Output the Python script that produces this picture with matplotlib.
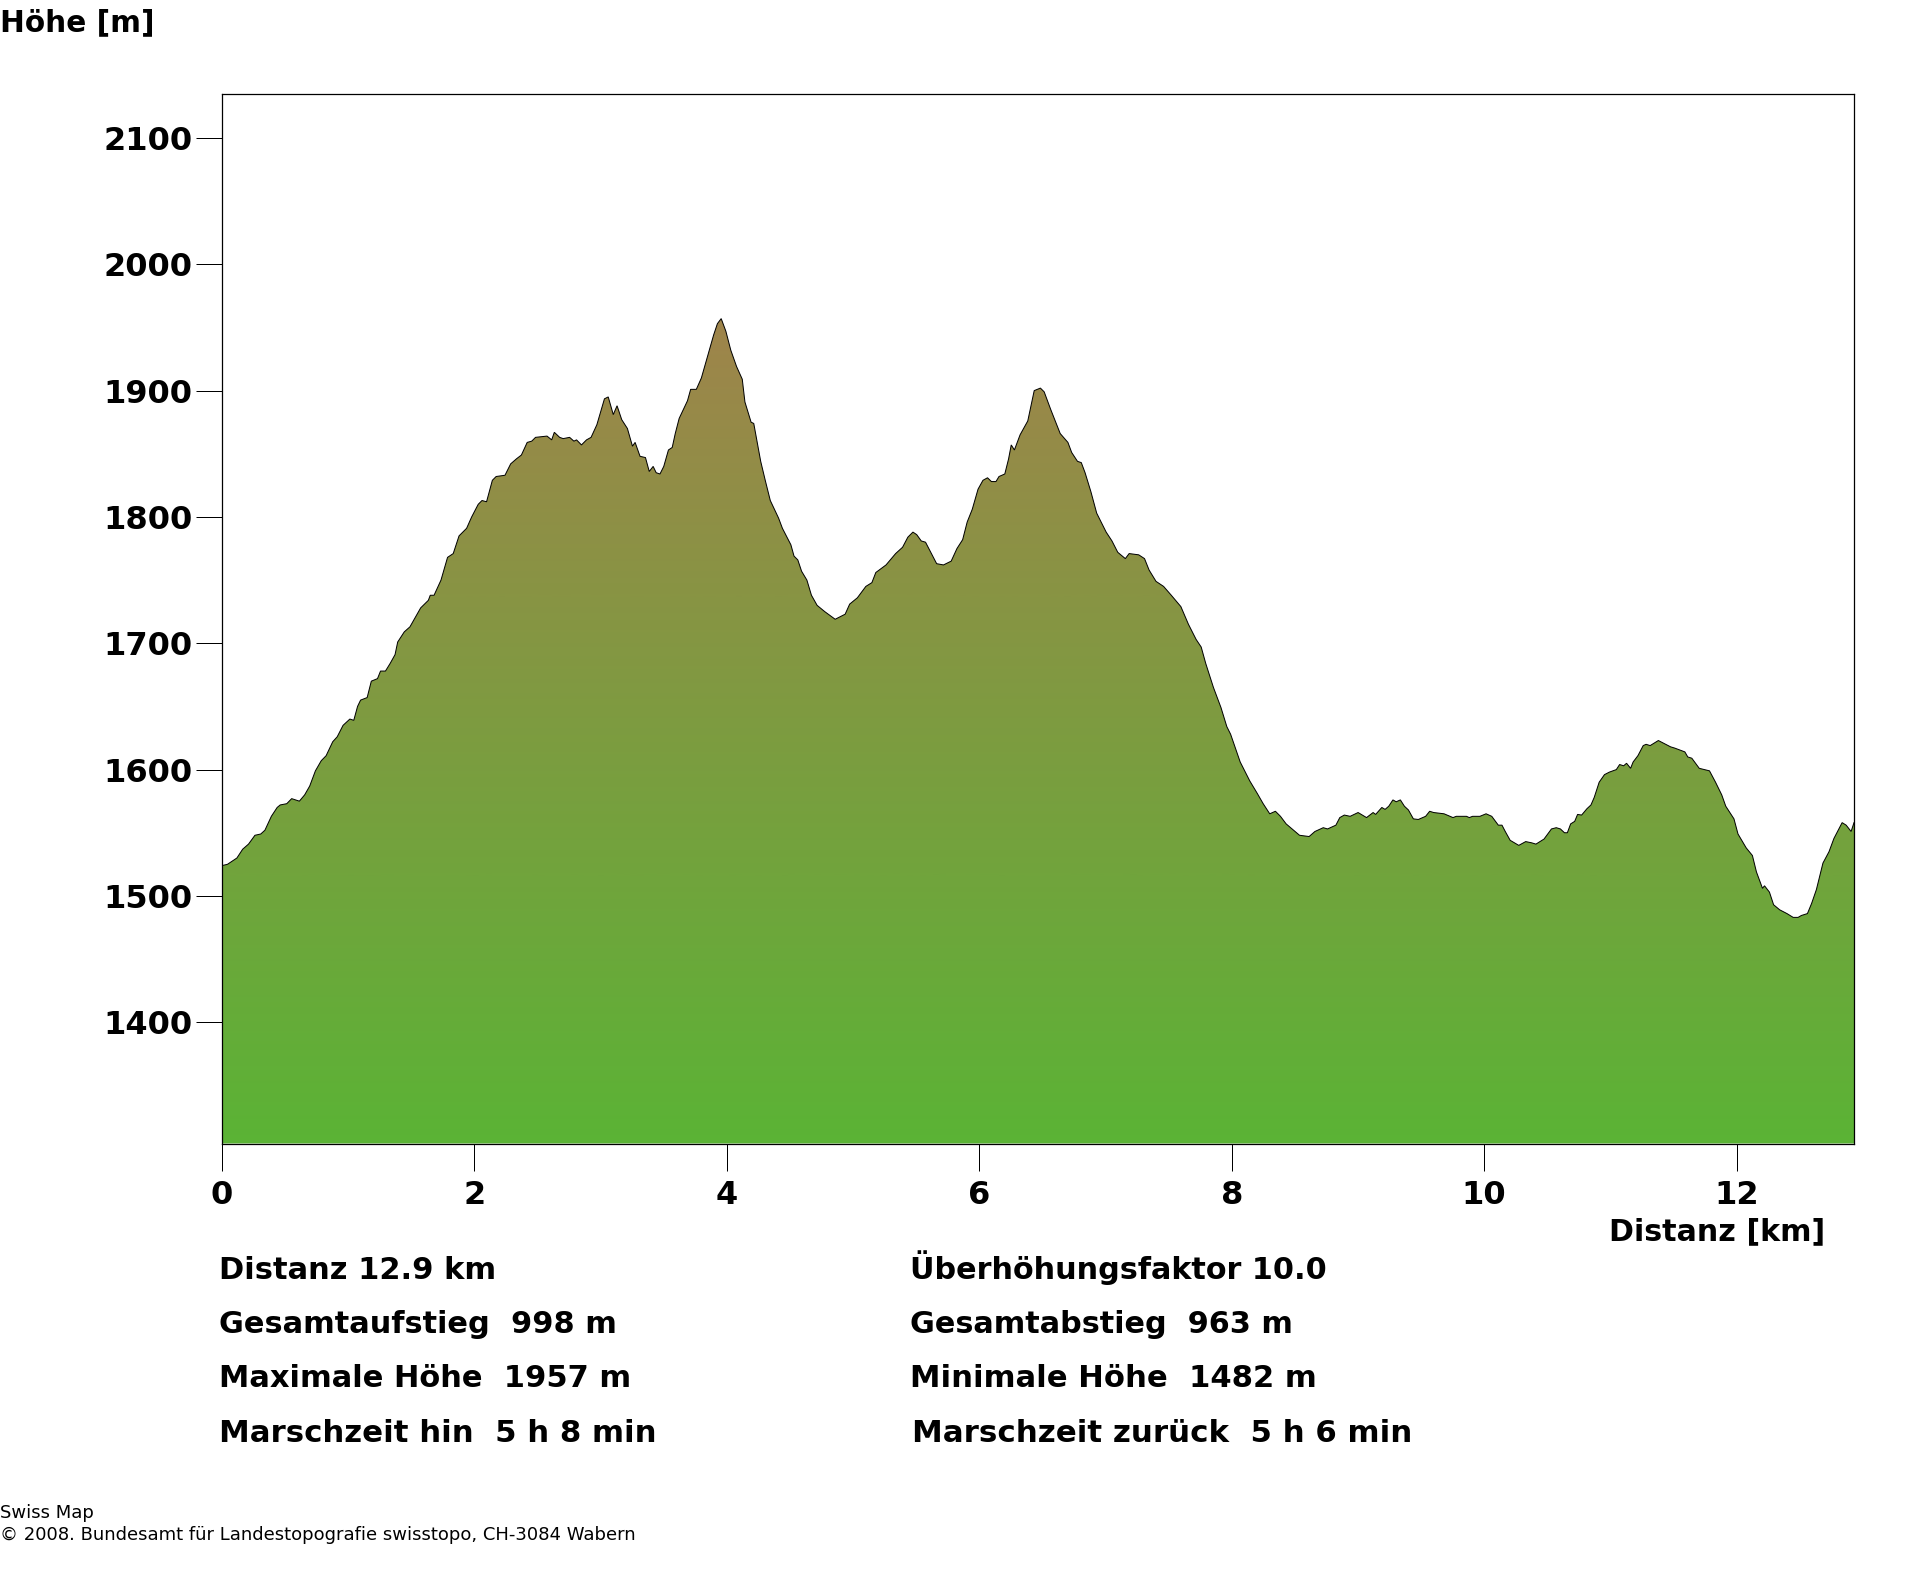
import numpy as np
import matplotlib
matplotlib.use("Agg")
import matplotlib.pyplot as plt
from matplotlib.colors import LinearSegmentedColormap

distance_km = [0, 0.043, 0.118, 0.164, 0.21, 0.261, 0.307, 0.34, 0.391, 0.437, 0.461, 0.513, 0.552, 0.613, 0.655, 0.695, 0.74, 0.786, 0.825, 0.877, 0.913, 0.959, 1.013, 1.044, 1.074, 1.098, 1.15, 1.183, 1.232, 1.256, 1.295, 1.332, 1.371, 1.392, 1.444, 1.489, 1.529, 1.574, 1.635, 1.65, 1.68, 1.735, 1.787, 1.832, 1.878, 1.938, 1.978, 2.03, 2.06, 2.096, 2.142, 2.172, 2.242, 2.287, 2.333, 2.372, 2.418, 2.454, 2.484, 2.575, 2.612, 2.633, 2.675, 2.703, 2.754, 2.788, 2.809, 2.848, 2.888, 2.924, 2.97, 3.03, 3.06, 3.1, 3.13, 3.167, 3.212, 3.252, 3.273, 3.312, 3.355, 3.385, 3.416, 3.44, 3.47, 3.5, 3.537, 3.567, 3.591, 3.622, 3.688, 3.713, 3.758, 3.798, 3.849, 3.895, 3.925, 3.955, 3.992, 4.031, 4.077, 4.122, 4.143, 4.192, 4.213, 4.268, 4.304, 4.344, 4.41, 4.44, 4.507, 4.532, 4.562, 4.592, 4.634, 4.67, 4.715, 4.776, 4.858, 4.897, 4.937, 4.973, 5.034, 5.101, 5.149, 5.18, 5.261, 5.337, 5.392, 5.434, 5.474, 5.504, 5.54, 5.574, 5.61, 5.662, 5.716, 5.777, 5.823, 5.868, 5.904, 5.944, 5.99, 6.029, 6.065, 6.096, 6.132, 6.156, 6.202, 6.232, 6.253, 6.278, 6.323, 6.384, 6.414, 6.435, 6.484, 6.514, 6.566, 6.641, 6.702, 6.732, 6.778, 6.808, 6.838, 6.884, 6.93, 7.005, 7.051, 7.097, 7.157, 7.187, 7.263, 7.309, 7.345, 7.4, 7.46, 7.521, 7.597, 7.657, 7.718, 7.758, 7.794, 7.855, 7.915, 7.961, 7.991, 8.067, 8.143, 8.203, 8.249, 8.301, 8.346, 8.386, 8.431, 8.537, 8.613, 8.659, 8.725, 8.759, 8.825, 8.856, 8.892, 8.938, 9.001, 9.068, 9.12, 9.14, 9.189, 9.215, 9.244, 9.277, 9.303, 9.336, 9.368, 9.4, 9.439, 9.478, 9.536, 9.568, 9.6, 9.682, 9.753, 9.779, 9.86, 9.882, 9.908, 9.966, 10.015, 10.06, 10.112, 10.141, 10.167, 10.206, 10.274, 10.329, 10.377, 10.41, 10.474, 10.533, 10.571, 10.604, 10.636, 10.659, 10.685, 10.717, 10.74, 10.772, 10.814, 10.846, 10.872, 10.911, 10.953, 10.992, 11.047, 11.073, 11.105, 11.128, 11.16, 11.18, 11.218, 11.26, 11.283, 11.315, 11.38, 11.477, 11.51, 11.59, 11.613, 11.645, 11.704, 11.785, 11.833, 11.882, 11.914, 11.979, 12.011, 12.076, 12.125, 12.157, 12.205, 12.221, 12.26, 12.293, 12.341, 12.399, 12.448, 12.487, 12.513, 12.561, 12.594, 12.632, 12.684, 12.732, 12.771, 12.836, 12.868, 12.907, 12.93]
elevation_m = [1524, 1525, 1530, 1537, 1541, 1548, 1549, 1552, 1563, 1570, 1572, 1573, 1577, 1575, 1580, 1587, 1599, 1607, 1611, 1622, 1626, 1635, 1640, 1639, 1650, 1655, 1657, 1670, 1672, 1678, 1678, 1684, 1691, 1701, 1709, 1713, 1720, 1728, 1734, 1738, 1738, 1750, 1768, 1771, 1785, 1791, 1800, 1810, 1813, 1812, 1829, 1832, 1833, 1842, 1846, 1849, 1859, 1860, 1863, 1864, 1861, 1867, 1863, 1862, 1863, 1860, 1861, 1857, 1861, 1863, 1873, 1893.5, 1895, 1881, 1888, 1877, 1870, 1856, 1859, 1848, 1847, 1836, 1840, 1835, 1834, 1840, 1853, 1855, 1866, 1878, 1892, 1901, 1901, 1910, 1928, 1944, 1953, 1957, 1947, 1932, 1919, 1909, 1891, 1875, 1874, 1844, 1829, 1813, 1799, 1791, 1778, 1769, 1766, 1757, 1750, 1738, 1730, 1725, 1719, 1721, 1723, 1731, 1736, 1745, 1748, 1756, 1762, 1771, 1776, 1784, 1788, 1786, 1781, 1780, 1773, 1763, 1762, 1765, 1775, 1782, 1796, 1806, 1822, 1829, 1831, 1828, 1828, 1832, 1834, 1846, 1857, 1853, 1865, 1876, 1890, 1900, 1902, 1899, 1885, 1866, 1859, 1851, 1844, 1843, 1835, 1820, 1803, 1788, 1781, 1772, 1767, 1771, 1770, 1767, 1758, 1749, 1745, 1738, 1729, 1715, 1703, 1697, 1684, 1665, 1649, 1634, 1628, 1606, 1591, 1581, 1573, 1565, 1567, 1563, 1557, 1548, 1547, 1551, 1554, 1553, 1556, 1562, 1564, 1563, 1566, 1562, 1566, 1564.5, 1570, 1568.5, 1571, 1576, 1574.5, 1576, 1571, 1568, 1561, 1560.5, 1563, 1567, 1566, 1565, 1562, 1563, 1563, 1562, 1563, 1563, 1565, 1563, 1556, 1556, 1551, 1544, 1540, 1543, 1542, 1541, 1545, 1553, 1554, 1553, 1550, 1550, 1557, 1559, 1564.5, 1564, 1569, 1572, 1578, 1590, 1596, 1598, 1600, 1604, 1603, 1605, 1601, 1606, 1611, 1619, 1620, 1619, 1623, 1618, 1617, 1614, 1610, 1609, 1601, 1599, 1590, 1580, 1571, 1561, 1549, 1538, 1532, 1519, 1506, 1508, 1503, 1493, 1489, 1486, 1483, 1483, 1484.5, 1486, 1494, 1505, 1526, 1535, 1545.5, 1558, 1556, 1551, 1558]
x_ticks = [0, 2, 4, 6, 8, 10, 12]
y_ticks = [1400, 1500, 1600, 1700, 1800, 1900, 2000, 2100]
x_range = [0, 12.93]
y_range = [1304, 2135.2]

stats_left = ["Distanz 12.9 km", "Gesamtaufstieg  998 m", "Maximale Höhe  1957 m", "Marschzeit hin  5 h 8 min"]
stats_right = ["Überhöhungsfaktor 10.0", "Gesamtabstieg  963 m", "Minimale Höhe  1482 m", "Marschzeit zurück  5 h 6 min"]
stats_left_size = [22.0, 21.83, 21.97, 22.15]
stats_right_size = [21.78, 21.75, 22.1, 22.26]
stats_right_x = [909.5, 909.5, 909.5, 912]
stats_baselines = [1279, 1333, 1387, 1442]

W, H = 1920, 1572
plt.rcParams['font.family'] = 'DejaVu Sans'
fig = plt.figure(figsize=(W / 100, H / 100), dpi=100, facecolor='white')
L, R, T, B = 222, 1854, 93.5, 1143.5
ax = fig.add_axes([L / W, 1 - B / H, (R - L) / W, (B - T) / H])

cmap = LinearSegmentedColormap.from_list('terrain_fill', ['#5ab435', '#9f844b'])
gradient = np.linspace(0, 1, 600).reshape(-1, 1)
ax.set_xlim(x_range)
ax.set_ylim(y_range)
img = ax.imshow(gradient, origin='lower', aspect='auto', cmap=cmap,
                extent=[x_range[0] - 0.2, x_range[1] + 0.2, y_range[0] - 10, 1960], zorder=1)
poly = ax.fill_between(distance_km, elevation_m, y_range[0], facecolor='none', edgecolor='none', zorder=0)
img.set_clip_box(fig.bbox)
img.set_clip_path(poly.get_paths()[0], transform=ax.transData)
ax.plot(distance_km, elevation_m, color='black', lw=0.72, zorder=2, solid_joinstyle='miter')

ax.set_xlim(x_range)
ax.set_ylim(y_range)
ax.set_xticks(x_ticks)
ax.set_yticks(y_ticks)
ax.tick_params(axis='x', length=19.4, width=0.72, pad=7, labelsize=23)
ax.tick_params(axis='y', length=18.7, width=0.72, pad=2.6, labelsize=23)
for lab in ax.get_xticklabels() + ax.get_yticklabels():
    lab.set_fontweight('bold')
for s in ax.spines.values():
    s.set_linewidth(0.9)
    s.set_zorder(5)

def px_text(x, y, s, **kw):
    fig.text(x / W, 1 - y / H, s, va='baseline', **kw)

px_text(0, 31.7, "Höhe [m]", fontsize=21.3, fontweight='bold')
px_text(1609, 1240.7, "Distanz [km]", fontsize=21.7, fontweight='bold')
for s, fs, yb in zip(stats_left, stats_left_size, stats_baselines):
    px_text(219, yb, s, fontsize=fs, fontweight='bold')
for s, fs, xp, yb in zip(stats_right, stats_right_size, stats_right_x, stats_baselines):
    px_text(xp, yb, s, fontsize=fs, fontweight='bold')
px_text(0, 1517.7, "Swiss Map", fontsize=13)
px_text(0, 1540, "© 2008. Bundesamt für Landestopografie swisstopo, CH-3084 Wabern", fontsize=13)

fig.savefig('out.png', dpi=100, facecolor='white')
